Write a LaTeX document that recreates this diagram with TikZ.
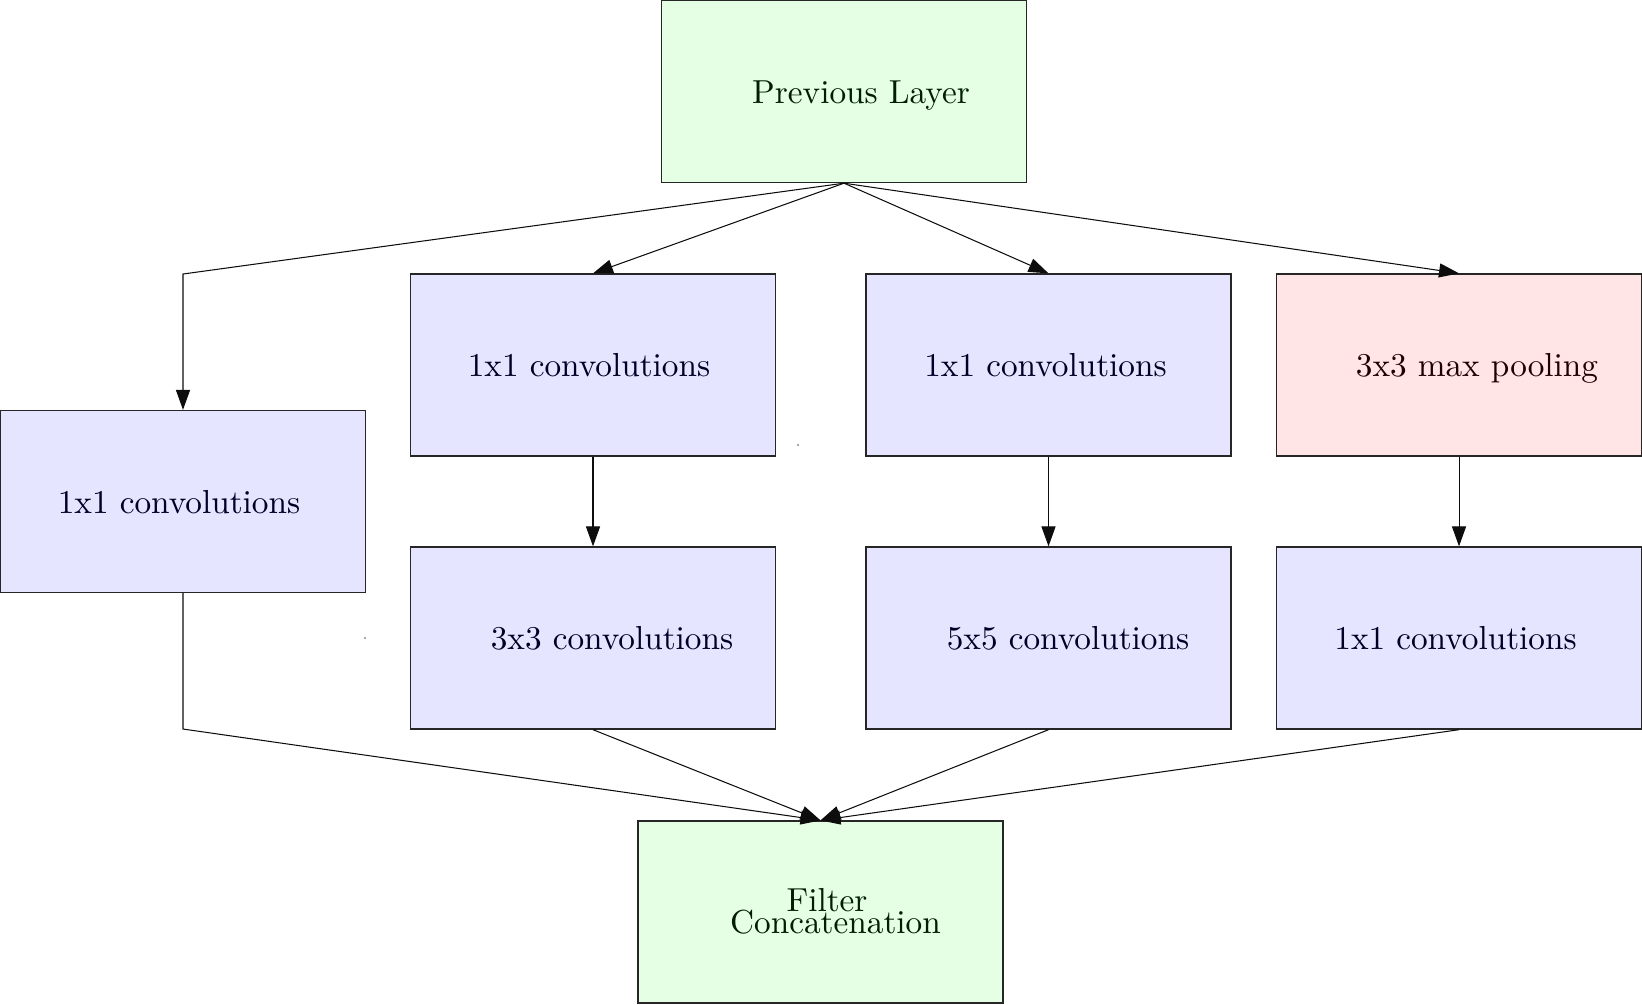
\documentclass[tikz,border=0pt]{standalone}
\usetikzlibrary{arrows.meta}
\definecolor{gfill}{RGB}{229,255,229}
\definecolor{bfill}{RGB}{229,229,255}
\definecolor{rfill}{RGB}{255,229,229}
\begin{document}
\begin{tikzpicture}[x=0.306pt,y=-0.306pt,
  box/.style={draw=black!85, line width=0.4pt, minimum width=111.7pt, minimum height=55.7pt, inner sep=0pt},
  gbox/.style={box, fill=gfill},
  bbox/.style={box, fill=bfill},
  rbox/.style={box, fill=rfill},
  lbl/.style={anchor=base, inner sep=0pt, font=\fontsize{10.18pt}{12pt}\selectfont},
  glbl/.style={lbl, text=green!12!black},
  blbl/.style={lbl, text=blue!15!black},
  rlbl/.style={lbl, text=red!12!black},
  conn/.style={draw=black!95, line width=0.32pt, -{Triangle[length=6.1pt,width=4.3pt]}}]
\useasboundingbox (0,0) rectangle (1642,1004);
% boxes
\node[gbox] (prev) at (844,91.5) {};
\node[bbox] (left) at (183,501.5) {};
\node[bbox] (A) at (593,365) {};
\node[bbox] (B) at (1048.5,365) {};
\node[rbox] (C) at (1459,365) {};
\node[bbox] (A3) at (593,638) {};
\node[bbox] (B3) at (1048.5,638) {};
\node[bbox] (C3) at (1459,638) {};
\node[gbox] (cat) at (820.5,912) {};
% labels
\node[glbl] (tprev) at (861,103) {Previous Layer};
\node[blbl] (tleft) at (179,513) {1x1 convolutions};
\node[blbl] (tA) at (589,376.5) {1x1 convolutions};
\node[blbl] (tB) at (1045.5,376.5) {1x1 convolutions};
\node[rlbl] (tC) at (1477,376.5) {3x3 max pooling};
\node[blbl] (tA3) at (612,649.5) {3x3 convolutions};
\node[blbl] (tB3) at (1068,649.5) {5x5 convolutions};
\node[blbl] (tC3) at (1455.5,649.5) {1x1 convolutions};
\node[glbl, text depth=0pt] (tcat1) at (827,911.5) {Filter};
\node[glbl, text height=5.8pt] (tcat2) at (835.5,933) {Concatenation};
% bend points
\coordinate (bendtop) at (183,274);
\coordinate (bendbot) at (183,729);
% connectors from previous layer
\draw[conn] (prev.south) -- (bendtop) -- (left.north);
\draw[conn] (prev.south) -- (A.north);
\draw[conn] (prev.south) -- (B.north);
\draw[conn] (prev.south) -- (C.north);
% vertical connectors
\draw[conn] (A.south) -- (A3.north);
\draw[conn] (B.south) -- (B3.north);
\draw[conn] (C.south) -- (C3.north);
% to concatenation
\draw[conn] (left.south) -- (bendbot) -- (cat.north);
\draw[conn] (A3.south) -- (cat.north);
\draw[conn] (B3.south) -- (cat.north);
\draw[conn] (C3.south) -- (cat.north);
% tiny stray dots
\coordinate (dot1) at (798,445);
\coordinate (dot2) at (365,638);
\fill[black!45] (dot1) circle (0.35pt);
\fill[black!45] (dot2) circle (0.35pt);
\end{tikzpicture}
\end{document}
